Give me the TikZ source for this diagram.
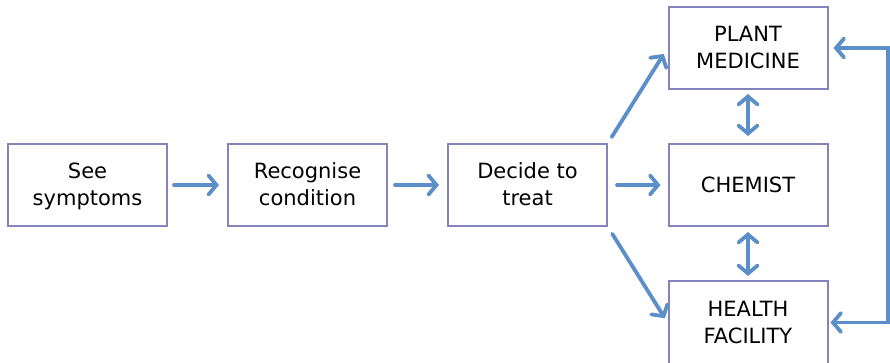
\documentclass[tikz,border=0pt]{standalone}
\usepackage{fontspec}
\setmainfont{DejaVu Sans}
\usetikzlibrary{arrows.meta}
\definecolor{boxline}{RGB}{132, 132, 186}
\definecolor{flow}{RGB}{92, 143, 201}

\begin{document}
\begin{tikzpicture}[x=1pt, y=-1pt,
  stage/.style={draw=boxline, line width=2pt, minimum width=159pt,
    minimum height=82pt, inner sep=0pt, align=center, text depth=1pt,
    font=\fontsize{21}{27}\selectfont},
  flowto/.style={draw=flow, line width=3.8pt, line cap=round,
    -{Straight Barb[length=8pt, width=19pt, line cap=round]}},
  flowboth/.style={flowto,
    {Straight Barb[length=8pt, width=19pt, line cap=round]}-{Straight Barb[length=8pt, width=19pt, line cap=round]}}]

  \useasboundingbox (0, 0) rectangle (890, 362);

  \node[stage] (see) at (87.5, 185) {See\\symptoms};
  \node[stage] (recognise) at (307.5, 185) {Recognise\\condition};
  \node[stage] (decide) at (527.5, 185) {Decide to\\treat};

  \node[stage] (plant) at (748, 48) {PLANT\\MEDICINE};
  \node[stage] (chemist) at (748, 185) {CHEMIST};
  \node[stage, minimum height=83pt] (health) at (748, 322.5) {HEALTH\\FACILITY};

  % main line
  \draw[flowto, shorten <=6pt, shorten >=8pt] (see) -- (recognise);
  \draw[flowto, shorten <=7pt, shorten >=8pt] (recognise) -- (decide);

  % choices
  \draw[flowto, shorten <=9pt, shorten >=7pt] (decide.east) -- (chemist.west);
  \draw[flowto, shorten <=7pt, shorten >=7pt] (decide.north east) -- (plant.west);
  \draw[flowto, shorten <=8pt, shorten >=5pt] (decide.south east) -- (health.west);

  \draw[flowboth, shorten <=4pt, shorten >=7pt] (plant.south) -- (chemist.north);
  \draw[flowboth, shorten <=5pt, shorten >=4pt] (chemist.south) -- (health.north);

  % back from the right
  \coordinate (turn) at (888, 48);
  \draw[flowboth, line cap=butt, shorten <=5pt, shorten >=2pt]
    (plant.east) -- (turn) |- (health.east);

\end{tikzpicture}
\end{document}
